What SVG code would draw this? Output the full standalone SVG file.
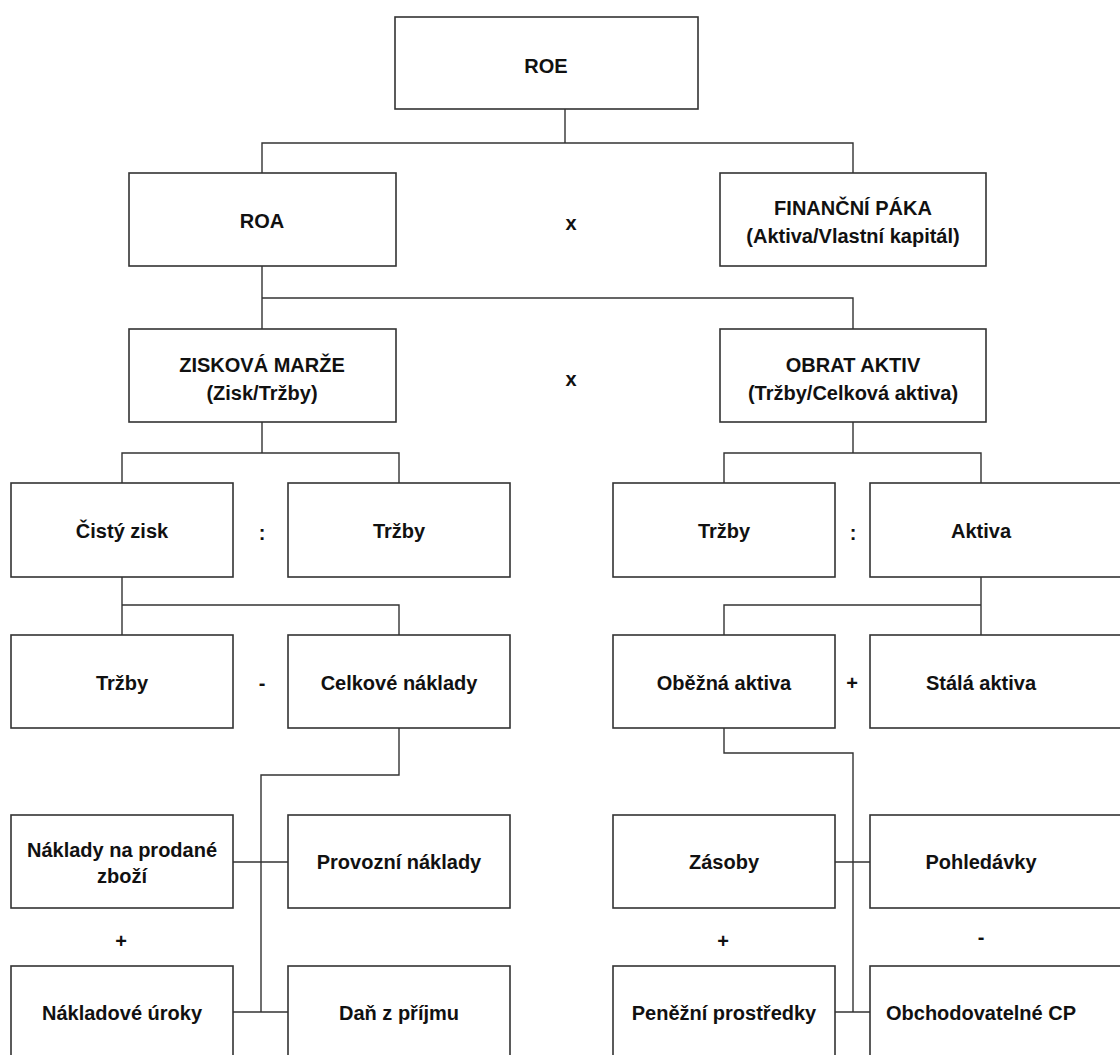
<svg xmlns="http://www.w3.org/2000/svg" width="1120" height="1055" viewBox="0 0 1120 1055">
<style>
.box{fill:#fff;stroke:#333;stroke-width:1.6}
.t{font-family:"Liberation Sans",Arial,Helvetica,sans-serif;font-weight:bold;font-size:20px;fill:#111;text-anchor:middle}
.c{fill:none;stroke:#333;stroke-width:1.4}
</style>
<rect width="1120" height="1055" fill="#fff"/>
<g id="connectors">
<path class="c" d="M565 109V143M262 173V143H853V173"/>
<path class="c" d="M262 266V298H853V329M262 298V329"/>
<path class="c" d="M262 422V453M122 483V453H399V483"/>
<path class="c" d="M853 422V453M724 483V453H981V483"/>
<path class="c" d="M122 577V635M122 605H399V635"/>
<path class="c" d="M981 577V635M724 635V605H981"/>
<path class="c" d="M399 728V775H261V1012M233 862H288M233 1012H288"/>
<path class="c" d="M724 728V753H853V1012M835 862H870M835 1012H870"/>
</g>
<g id="roe"><rect class="box" x="395" y="17" width="303" height="92"/><text class="t" x="546" y="73">ROE</text></g>
<g id="roa"><rect class="box" x="129" y="173" width="267" height="93"/><text class="t" x="262" y="228">ROA</text></g>
<g id="op-x1"><text class="t" x="571" y="230">x</text></g>
<g id="financni-paka"><rect class="box" x="720" y="173" width="266" height="93"/><text class="t" x="853" y="215">FINANČNÍ PÁKA</text><text class="t" x="853" y="243">(Aktiva/Vlastní kapitál)</text></g>
<g id="ziskova-marze"><rect class="box" x="129" y="329" width="267" height="93"/><text class="t" x="262" y="372">ZISKOVÁ MARŽE</text><text class="t" x="262" y="400">(Zisk/Tržby)</text></g>
<g id="op-x2"><text class="t" x="571" y="386">x</text></g>
<g id="obrat-aktiv"><rect class="box" x="720" y="329" width="266" height="93"/><text class="t" x="853" y="372">OBRAT AKTIV</text><text class="t" x="853" y="400">(Tržby/Celková aktiva)</text></g>
<g id="cisty-zisk"><rect class="box" x="11" y="483" width="222" height="94"/><text class="t" x="122" y="538">Čistý zisk</text></g>
<g id="op-div1"><text class="t" x="262" y="540">:</text></g>
<g id="trzby1"><rect class="box" x="288" y="483" width="222" height="94"/><text class="t" x="399" y="538">Tržby</text></g>
<g id="trzby2"><rect class="box" x="613" y="483" width="222" height="94"/><text class="t" x="724" y="538">Tržby</text></g>
<g id="op-div2"><text class="t" x="853" y="540">:</text></g>
<g id="aktiva"><rect class="box" x="870" y="483" width="260" height="94"/><text class="t" x="981" y="538">Aktiva</text></g>
<g id="trzby3"><rect class="box" x="11" y="635" width="222" height="93"/><text class="t" x="122" y="690">Tržby</text></g>
<g id="op-minus1"><text class="t" x="262" y="690">-</text></g>
<g id="celkove-naklady"><rect class="box" x="288" y="635" width="222" height="93"/><text class="t" x="399" y="690">Celkové náklady</text></g>
<g id="obezna-aktiva"><rect class="box" x="613" y="635" width="222" height="93"/><text class="t" x="724" y="690">Oběžná aktiva</text></g>
<g id="op-plus1"><text class="t" x="852" y="690">+</text></g>
<g id="stala-aktiva"><rect class="box" x="870" y="635" width="260" height="93"/><text class="t" x="981" y="690">Stálá aktiva</text></g>
<g id="naklady-prodane"><rect class="box" x="11" y="815" width="222" height="93"/><text class="t" x="122" y="857">Náklady na prodané</text><text class="t" x="122" y="883">zboží</text></g>
<g id="provozni-naklady"><rect class="box" x="288" y="815" width="222" height="93"/><text class="t" x="399" y="869">Provozní náklady</text></g>
<g id="zasoby"><rect class="box" x="613" y="815" width="222" height="93"/><text class="t" x="724" y="869">Zásoby</text></g>
<g id="pohledavky"><rect class="box" x="870" y="815" width="260" height="93"/><text class="t" x="981" y="869">Pohledávky</text></g>
<g id="op-plus2"><text class="t" x="121" y="948">+</text></g>
<g id="op-plus3"><text class="t" x="723" y="948">+</text></g>
<g id="op-minus2"><text class="t" x="981" y="944">-</text></g>
<g id="nakladove-uroky"><rect class="box" x="11" y="966" width="222" height="100"/><text class="t" x="122" y="1020">Nákladové úroky</text></g>
<g id="dan-z-prijmu"><rect class="box" x="288" y="966" width="222" height="100"/><text class="t" x="399" y="1020">Daň z příjmu</text></g>
<g id="penezni-prostredky"><rect class="box" x="613" y="966" width="222" height="100"/><text class="t" x="724" y="1020">Peněžní prostředky</text></g>
<g id="obchodovatelne-cp"><rect class="box" x="870" y="966" width="260" height="100"/><text class="t" x="981" y="1020">Obchodovatelné CP</text></g>
</svg>
